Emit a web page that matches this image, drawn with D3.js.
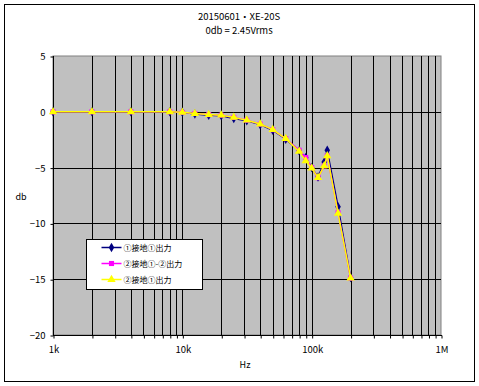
<!DOCTYPE html>
<html>
<head>
<meta charset="utf-8">
<script src="https://cdn.jsdelivr.net/npm/d3@7"></script>
<style>
  body { margin: 0; background: #fff; }
  text { font-family: "Noto Sans CJK JP", "DejaVu Sans", sans-serif; font-size: 9px; fill: #000; }
</style>
</head>
<body>
<div id="chart"></div>
<script>
(function () {
  // frequencies (Hz) and levels (dB)
  const freqs = [1000, 2000, 4000, 8000, 10000, 12500, 16000, 20000, 25000, 31500, 40000,
    50000, 63000, 80000, 90000, 100000, 112000, 125000, 132000, 160000, 200000];
  const series1 = [0, 0, 0, 0, -0.05, -0.2, -0.3, -0.35, -0.6, -0.8, -1.15,
    -1.65, -2.45, -3.5, -4.1, -5.0, -5.85, -4.5, -3.45, -8.5, -14.85];
  const series2 = [0, 0, 0, 0, -0.05, -0.15, -0.25, -0.3, -0.5, -0.75, -1.1,
    -1.6, -2.4, -3.45, -4.1, -5.0, -5.9, -4.85, -3.95, -9.05, -14.9];
  const series3 = [0, 0, 0, 0, -0.05, -0.15, -0.25, -0.3, -0.5, -0.75, -1.1,
    -1.6, -2.4, -3.55, -4.4, -5.05, -5.9, -4.85, -3.95, -9.1, -14.9];
  const seriesNames = ["①接地①出力", "②接地①-②出力", "②接地①出力"];
  const yTicks = [5, 0, -5, -10, -15, -20];
  const xTickLabels = { 1000: "1k", 10000: "10k", 100000: "100k", 1000000: "1M" };

  const width = 479, height = 386;
  const left = 53, right = 441, top = 56, bottom = 335;

  const svg = d3.select("#chart").append("svg").attr("width", width).attr("height", height);

  // outer frame
  svg.append("rect")
    .attr("x", 4.5).attr("y", 4.5)
    .attr("width", 470).attr("height", 377)
    .attr("fill", "#fff").attr("stroke", "#000").attr("stroke-width", 1);

  const x = d3.scaleLog().domain([1000, 1000000]).range([left, right]);
  const y = d3.scaleLinear().domain([-20, 5]).range([bottom, top]);

  // plot area
  svg.append("rect")
    .attr("x", left).attr("y", top)
    .attr("width", right - left).attr("height", bottom - top)
    .attr("fill", "#c0c0c0").attr("stroke", "#808080").attr("stroke-width", 1);

  // vertical grid at every log step
  const logTicks = x.ticks();
  svg.append("g").selectAll("line")
    .data(logTicks.filter(t => t > 1000 && t < 1000000))
    .enter().append("line")
    .attr("x1", d => Math.round(x(d)) + 0.5).attr("x2", d => Math.round(x(d)) + 0.5)
    .attr("y1", top).attr("y2", bottom)
    .attr("stroke", "#000").attr("stroke-width", 1);

  // horizontal grid
  svg.append("g").selectAll("line")
    .data(yTicks.filter(t => t > -20 && t < 5))
    .enter().append("line")
    .attr("x1", left).attr("x2", right)
    .attr("y1", d => Math.round(y(d)) + 0.5).attr("y2", d => Math.round(y(d)) + 0.5)
    .attr("stroke", "#000").attr("stroke-width", 1);

  // axes
  const xAxis = d3.axisBottom(x).tickValues(logTicks).tickSize(3).tickFormat(d => xTickLabels[d] || "");
  const gx = svg.append("g").attr("transform", `translate(0.5,${bottom + 0.5})`).call(xAxis);
  gx.select(".domain").remove();
  gx.selectAll(".tick line").attr("stroke", "#000");
  gx.selectAll("text").attr("dy", null).attr("y", 17).style("font-size", "9.5px");
  svg.append("line")
    .attr("x1", left).attr("x2", right + 1)
    .attr("y1", bottom + 0.5).attr("y2", bottom + 0.5)
    .attr("stroke", "#000");

  const yAxis = d3.axisLeft(y).tickValues(yTicks).tickSize(3).tickFormat(d => d < 0 ? "\u2212" + (-d) : d);
  const gy = svg.append("g").attr("transform", `translate(${left + 0.5},0.5)`).call(yAxis);
  gy.select(".domain").remove();
  gy.selectAll(".tick line").attr("stroke", "#000");
  gy.selectAll("text").attr("x", -8).style("font-size", "9.5px");
  svg.append("line")
    .attr("x1", left + 0.5).attr("x2", left + 0.5)
    .attr("y1", top).attr("y2", bottom + 1)
    .attr("stroke", "#000");

  // titles
  svg.append("text").attr("x", 239).attr("y", 20).attr("text-anchor", "middle")
    .style("font-size", "9.5px").text("20150601・XE-20S");
  svg.append("text").attr("x", 239).attr("y", 34).attr("text-anchor", "middle")
    .style("font-size", "9.5px").text("0db = 2.45Vrms");
  svg.append("text").attr("x", 245).attr("y", 368).attr("text-anchor", "middle").text("Hz");
  svg.append("text").attr("x", 21).attr("y", 200).attr("text-anchor", "middle").text("db");

  const line = d3.line().x(d => x(d[0])).y(d => y(d[1]));
  const styles = [
    { data: series1, color: "#000080", marker: d3.symbolDiamond, size: 26 },
    { data: series2, color: "#ff00ff", marker: d3.symbolSquare, size: 26 },
    { data: series3, color: "#ffff00", marker: d3.symbolTriangle, size: 30 }
  ];

  styles.forEach(s => {
    const pts = freqs.map((f, i) => [f, s.data[i]]);
    svg.append("path").datum(pts)
      .attr("d", line).attr("fill", "none")
      .attr("stroke", s.color).attr("stroke-width", 1.5);
    svg.append("g").selectAll("path")
      .data(pts).enter().append("path")
      .attr("transform", d => `translate(${x(d[0])},${y(d[1])})`)
      .attr("d", d3.symbol().type(s.marker).size(s.size))
      .attr("fill", s.color);
  });

  // legend
  const legend = svg.append("g").attr("transform", "translate(86.5,239.5)");
  legend.append("rect").attr("width", 116).attr("height", 50)
    .attr("fill", "#fff").attr("stroke", "#000");
  styles.forEach((s, i) => {
    const ly = 8 + i * 16;
    legend.append("line").attr("x1", 15).attr("x2", 35).attr("y1", ly).attr("y2", ly)
      .attr("stroke", s.color).attr("stroke-width", 1.5);
    legend.append("path").attr("transform", `translate(25,${ly})`)
      .attr("d", d3.symbol().type(s.marker).size(s.size)).attr("fill", s.color);
    legend.append("text").attr("x", 37).attr("y", ly + 3.5)
      .style("font-size", "8px").text(seriesNames[i]);
  });
})();
</script>
</body>
</html>
